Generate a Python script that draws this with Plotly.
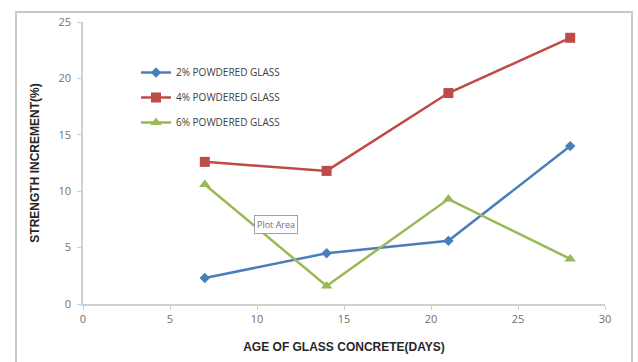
import plotly.graph_objects as go

# Age of glass concrete (days) and strength increment (%) per glass content
days = [7, 14, 21, 28]
glass_2 = [2.3, 4.5, 5.6, 14.0]
glass_4 = [12.6, 11.8, 18.7, 23.6]
glass_6 = [10.6, 1.6, 9.3, 4.0]

series_names = ["2% POWDERED GLASS", "4% POWDERED GLASS", "6% POWDERED GLASS"]
x_ticks = [0, 5, 10, 15, 20, 25, 30]
y_ticks = [0, 5, 10, 15, 20, 25]

W, H = 638, 362
L, R, T, B = 83, 33, 22, 58
pw, ph = W - L - R, H - T - B


def px_x(p):
    return (p - L) / pw


def px_y(p):
    return (H - B - p) / ph


fig = go.Figure()
styles = [
    ("#4a7ebb", "diamond", 8),
    ("#be4b48", "square", 10),
    ("#98b954", "triangle-up", 10),
]
for name, vals, (col, sym, size) in zip(series_names, [glass_2, glass_4, glass_6], styles):
    fig.add_trace(go.Scatter(
        x=days, y=vals, name=name, mode="lines+markers",
        line=dict(color=col, width=2.5),
        marker=dict(symbol=sym, size=size, color=col),
        legendgroup=name,
    ))

axis_font = dict(family="Open Sans, Liberation Sans, sans-serif", size=11, color="#707070")
title_font = dict(family="Liberation Sans Narrow, Liberation Sans, Arial, sans-serif", size=12, color="#262626")

fig.update_layout(
    width=W, height=H,
    margin=dict(l=L, r=R, t=T, b=B),
    paper_bgcolor="white", plot_bgcolor="white",
    showlegend=True,
    legend=dict(
        x=px_x(136), y=px_y(58), xanchor="left", yanchor="top",
        bgcolor="rgba(0,0,0,0)", font=dict(family="Open Sans, sans-serif", size=10, color="#404040"),
        tracegroupgap=6, itemwidth=30,
    ),
    xaxis=dict(
        range=[0, 30], tickvals=x_ticks, showgrid=False, zeroline=False,
        showline=True, linecolor="#d0d0d0", linewidth=1.5,
        ticks="outside", ticklen=4, tickcolor="#d0d0d0",
        tickfont=axis_font, automargin=False,
        title=dict(text="<b>AGE OF GLASS CONCRETE(DAYS)</b>", font=title_font, standoff=18),
    ),
    yaxis=dict(
        range=[0, 25], tickvals=y_ticks, showgrid=False, zeroline=False,
        showline=True, linecolor="#d0d0d0", linewidth=1.5,
        ticks="outside", ticklen=4, tickcolor="#d0d0d0",
        tickfont=axis_font, ticklabelstandoff=4, automargin=False,
        title=dict(text="<b>STRENGTH INCREMENT(%)</b>", font=title_font, standoff=16),
    ),
    shapes=[
        dict(type="rect", xref="paper", yref="paper",
             x0=px_x(16), x1=px_x(632), y0=px_y(372), y1=px_y(12),
             line=dict(color="#c8c8c8", width=2), fillcolor="rgba(0,0,0,0)", layer="below"),
    ],
    annotations=[
        dict(text="Plot Area", xref="paper", yref="paper", x=px_x(276), y=px_y(224),
             xanchor="center", yanchor="middle",
             showarrow=False, font=dict(family="Open Sans, sans-serif", size=9, color="#707070"),
             bordercolor="#a0a0a0", borderwidth=1, borderpad=2, bgcolor="white"),
    ],
)

fig.write_html("out.html")
